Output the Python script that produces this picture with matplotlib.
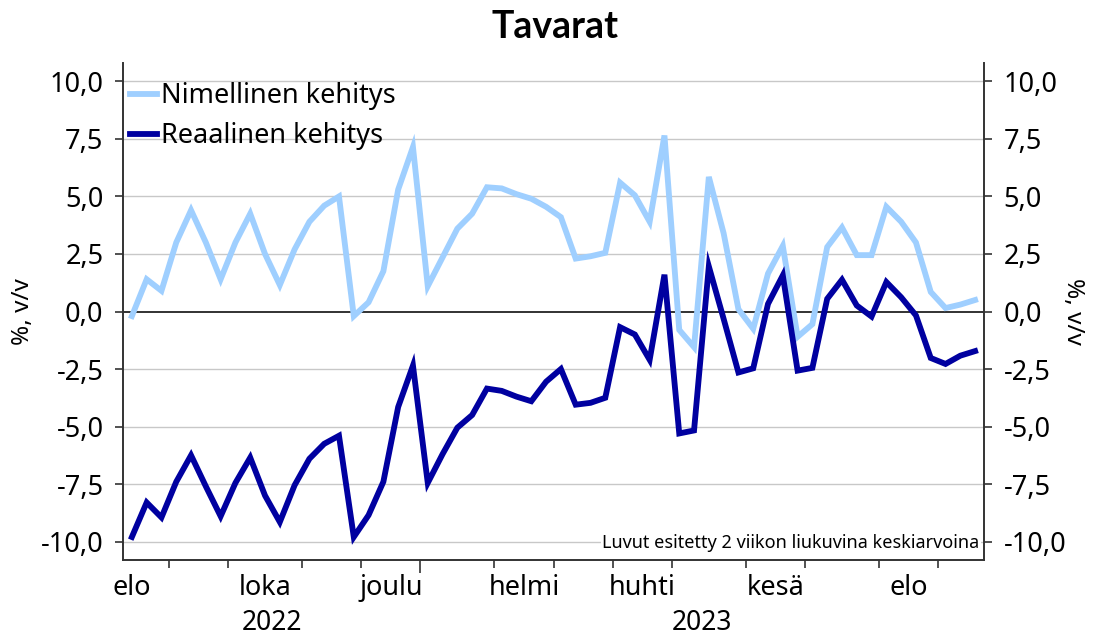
import matplotlib
matplotlib.use("Agg")
import matplotlib.pyplot as plt
import matplotlib.transforms as mtransforms
import numpy as np

# ---- data ----
nimellinen = [-0.2, 1.4, 0.9, 3.0, 4.4, 3.0, 1.4, 3.0, 4.25, 2.5,
              1.15, 2.7, 3.9, 4.6, 5.0, -0.2, 0.4, 1.75, 5.3, 7.15,
              1.1, 2.35, 3.6, 4.25, 5.4, 5.35, 5.1, 4.9, 4.55, 4.1,
              2.3, 2.4, 2.55, 5.6, 5.05, 3.9, 7.65, -0.8, -1.55, 5.85,
              3.4, 0.1, -0.75, 1.65, 2.85, -1.1, -0.55, 2.8, 3.65, 2.45,
              2.45, 4.55, 3.9, 3.0, 0.85, 0.15, 0.3, 0.5]
reaalinen = [-9.8, -8.3, -8.95, -7.4, -6.25, -7.6, -8.9, -7.45, -6.35, -8.0,
             -9.15, -7.55, -6.4, -5.75, -5.4, -9.8, -8.85, -7.4, -4.15, -2.35,
             -7.45, -6.2, -5.05, -4.5, -3.35, -3.45, -3.7, -3.9, -3.05, -2.5,
             -4.05, -3.97, -3.75, -0.68, -1.0, -2.1, 1.6, -5.3, -5.17, 1.96,
             -0.32, -2.65, -2.47, 0.33, 1.57, -2.57, -2.45, 0.55, 1.38, 0.26,
             -0.22, 1.28, 0.62, -0.17, -2.02, -2.28, -1.92, -1.72]
weeks_per_month = [3, 4, 5, 4, 4, 5, 4, 4, 4, 5, 4, 5, 4, 3]
month_labels = ["elo", "", "loka", "", "joulu", "", "helmi", "", "huhti", "", "kesä", "", "elo", ""]
years = ["2022", "2023"]
months_per_year = [5, 9]
yticks = [-10, -7.5, -5, -2.5, 0, 2.5, 5, 7.5, 10]

series_names = ["Nimellinen kehitys", "Reaalinen kehitys"]
colors = ["#9fcfff", "#0000a0"]

plt.rcParams['font.family'] = ['Noto Sans', 'DejaVu Sans']
FS = 19.5

fig = plt.figure(figsize=(10.95, 6.38), dpi=100)
ax = fig.add_axes([123/1095, 1-560/638, (984-123)/1095, (560-63)/638])

x = np.arange(len(nimellinen))
ax.plot(x, nimellinen, color=colors[0], lw=4.2, label=series_names[0], solid_joinstyle='miter', zorder=3)
ax.plot(x, reaalinen, color=colors[1], lw=4.2, label=series_names[1], solid_joinstyle='miter', zorder=4)

ax.set_xlim(-0.6, 57.6)
ax.set_ylim(-10.8, 10.8)

# grid
for yv in yticks:
    if yv == 0:
        ax.axhline(0, color="#222222", lw=1.3, zorder=2)
    else:
        ax.axhline(yv, color="#c8c8c8", lw=1.0, zorder=1)

ax.set_yticks(yticks)
fmt = lambda v: f"{v:.1f}".replace(".", ",")
ax.set_yticklabels([fmt(v) for v in yticks])
ax.tick_params(axis='y', which='both', direction='out', length=6, width=1.2, color="#333333",
               labelsize=FS, pad=8, left=True, right=True, labelleft=True, labelright=True)

for sp in ["left", "right", "bottom"]:
    ax.spines[sp].set_color("#333333")
    ax.spines[sp].set_linewidth(1.4)
ax.spines["top"].set_visible(False)

# month boundaries
bounds = np.cumsum(weeks_per_month)[:-1] - 0.5
ax.set_xticks(bounds)
ax.set_xticklabels([])
ax.tick_params(axis='x', which='major', direction='out', length=6, width=1.2, color="#333333")
year_bound = sum(weeks_per_month[:months_per_year[0]]) - 0.5
for t, b in zip(ax.xaxis.get_major_ticks(), bounds):
    if abs(b - year_bound) < 1e-9:
        t.tick1line.set_markersize(9)

starts = np.concatenate([[0], np.cumsum(weeks_per_month)[:-1]])
centers = starts + (np.array(weeks_per_month) - 1) / 2.0
centers[0] = starts[0]
lab_pos = [c for c, l in zip(centers, month_labels) if l]
lab_txt = [l for l in month_labels if l]
ax.set_xticks(lab_pos, minor=True)
ax.set_xticklabels(lab_txt, minor=True)
ax.tick_params(axis='x', which='minor', length=0, labelsize=FS, pad=10)

trans = mtransforms.blended_transform_factory(ax.transData, ax.transAxes)
edges = [-0.5, year_bound, len(nimellinen) - 0.5]
for i, yr in enumerate(years):
    ax.text((edges[i] + edges[i + 1]) / 2, -0.126, yr, transform=trans, ha='center', va='center',
            fontsize=19)

ax.set_ylabel("%, v/v", fontsize=17.5, labelpad=4)
ax.text(1.09, 0.5, "%, v/v", transform=ax.transAxes, rotation=270, ha='left', va='center',
        fontsize=17.5)

leg = ax.legend(loc='upper left', frameon=False, fontsize=FS, handlelength=1.0, handletextpad=0.15,
                borderpad=0.0, borderaxespad=0.25, labelspacing=0.45, bbox_to_anchor=(0.0, 0.975))

ax.text(0.995, 0.035, "Luvut esitetty 2 viikon liukuvina keskiarvoina", transform=ax.transAxes,
        ha='right', va='center', fontsize=13,
        bbox=dict(facecolor='white', edgecolor='none', pad=1), zorder=5)

fig.text(0.507, 0.958, "Tavarat", ha='center', va='center', fontsize=27, fontweight='bold',
         family=['Lato', 'DejaVu Sans'])

fig.savefig("out.png", dpi=100)
